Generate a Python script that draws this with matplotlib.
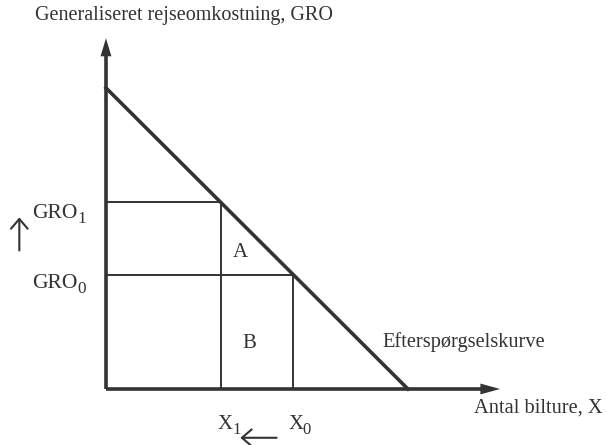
import matplotlib.pyplot as plt
from matplotlib.patches import FancyArrow

plt.rcParams['font.family'] = ['Liberation Serif', 'DejaVu Serif']

# demand curve endpoints (GRO = a - X)
demand_x = [0, 100]
demand_y = [100, 0]
gro = [38, 62]        # GRO0, GRO1
xs = [62, 38]         # X0, X1
subs = ['0', '1']
area_labels = ['A', 'B']

col = '#333333'
fig = plt.figure(figsize=(6.06, 4.45), dpi=100)
ax = fig.add_axes([0, 0, 1, 1])
ax.set_xlim(-35.1, 165.6)
ax.set_ylim(-18.6, 129.2)
ax.axis('off')


def sublabel(x, y, main, sub, fs):
    t = ax.text(x, y, main, fontsize=fs, color=col, ha='left', va='baseline')
    ax.annotate(sub, xy=(1, 0), xycoords=t, xytext=(-0.3, -3), textcoords='offset points',
                fontsize=fs * 0.8, color=col, ha='left', va='bottom')


# axes with arrow heads
ax.plot([0, 126], [0, 0], color=col, lw=2.6, solid_capstyle='butt')
ax.plot([0, 0], [0, 112], color=col, lw=2.6, solid_capstyle='butt')
ax.add_patch(FancyArrow(124, 0, 6.5, 0, width=0, head_width=3.6, head_length=6.5,
                        length_includes_head=True, color=col, lw=0))
ax.add_patch(FancyArrow(0, 110, 0, 6.5, width=0, head_width=3.6, head_length=6.0,
                        length_includes_head=True, color=col, lw=0))

# demand curve
ax.plot(demand_x, demand_y, color=col, lw=2.6)

# price / quantity lines
ax.plot([0, xs[1]], [gro[1], gro[1]], color=col, lw=1.4)
ax.plot([0, xs[0]], [gro[0], gro[0]], color=col, lw=1.4)
ax.plot([xs[1], xs[1]], [0, gro[1]], color=col, lw=1.4)
ax.plot([xs[0], xs[0]], [0, gro[0]], color=col, lw=1.4)

fs = 15
ax.text(-23.5, 124, 'Generaliseret rejseomkostning, GRO', fontsize=14.5, color=col,
        ha='left', va='center')
sublabel(-24.5, gro[1] - 5.2, 'GRO', subs[1], 15.5)
sublabel(-24.5, gro[0] - 4.5, 'GRO', subs[0], 15.5)
ax.text(44.5, 45.5, area_labels[0], fontsize=fs, color=col, ha='center', va='center')
ax.text(47.5, 15, area_labels[1], fontsize=fs, color=col, ha='center', va='center')
ax.text(91.5, 15.5, 'Efterspørgselskurve', fontsize=14.7, color=col, ha='left', va='center')
ax.text(122, -6.3, 'Antal bilture, X', fontsize=14.7, color=col, ha='left', va='center')
sublabel(xs[1] - 1, -13.3, 'X', subs[1], fs)
sublabel(xs[0] - 1.7, -13.3, 'X', subs[0], fs)

# direction arrows
arrow = dict(arrowstyle='->, head_length=0.35, head_width=0.3', color=col, lw=1.5,
             mutation_scale=20, shrinkA=0, shrinkB=0)
ax.annotate('', xy=(-28.7, 57), xytext=(-28.7, 46), arrowprops=arrow)
ax.annotate('', xy=(44.5, -16.2), xytext=(56.5, -16.2), arrowprops=arrow)

fig.savefig('out.png', dpi=100)
